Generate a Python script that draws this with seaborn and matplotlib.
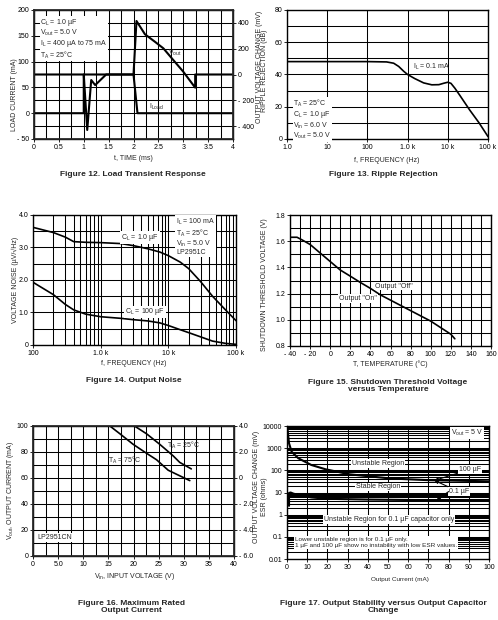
import matplotlib
matplotlib.use('Agg')
import matplotlib.pyplot as plt
import seaborn as sns
from matplotlib.ticker import MultipleLocator, LogLocator, NullLocator, NullFormatter

# ---- Figure 12: load transient response
t_load = [0, 1.0, 1.0, 2.0, 2.08, 4.0]
i_load = [0, 0, 75, 75, 0, 0]
t_vout = [0, 1.0, 1.07, 1.15, 1.23, 1.45, 2.0, 2.06, 2.23, 2.43, 2.6, 2.8, 3.0, 3.24, 3.24, 4.0]
v_out = [0, 0, -430, -43, -82, 0, 0, 415, 312, 254, 203, 112, 22, -102, 0, 0]

# ---- Figure 13: ripple rejection
f_rr = [1, 100, 300, 450, 600, 800, 1000, 1500, 2500, 4000, 6000, 8000, 10000, 12000,
        15000, 20000, 35000, 60000, 100000]
rr = [48, 48, 47.8, 47, 45, 42, 40, 37.5, 34.8, 33.6, 33.7, 34.6, 35.2, 34.5,
      31.5, 27, 18, 10, 1.5]

# ---- Figure 14: output noise
f_noise = [100, 200, 300, 400, 600, 1000, 2000, 3000, 5000, 7500, 10000, 15000, 20000,
           30000, 45000, 70000, 100000]
noise_1uf = [3.62, 3.46, 3.32, 3.18, 3.16, 3.15, 3.12, 3.06, 2.96, 2.86, 2.75, 2.55, 2.35,
             1.95, 1.5, 1.08, 0.75]
noise_100uf = [1.93, 1.55, 1.25, 1.08, 0.95, 0.87, 0.82, 0.78, 0.74, 0.68, 0.6, 0.47, 0.38,
               0.25, 0.12, 0.05, 0.02]

# ---- Figure 15: shutdown threshold
temp = [-40, -33, -28, -20, -10, 0, 10, 20, 30, 40, 50, 60, 70, 80, 90, 100, 110, 120, 124]
v_sd = [1.63, 1.63, 1.61, 1.575, 1.51, 1.445, 1.38, 1.333, 1.285, 1.24, 1.19, 1.15, 1.11,
        1.07, 1.03, 0.99, 0.94, 0.89, 0.855]

# ---- Figure 16: max rated output current
vin_25 = [4.5, 20.2, 22.6, 25.2, 27.9, 29.2, 31.5]
iout_25 = [100, 100, 94, 86, 77, 72, 67]
vin_75 = [4.5, 15.3, 17.3, 19.9, 22.6, 24.6, 26.9, 28.5, 31.2]
iout_75 = [100, 100, 94, 86, 79, 74, 66, 63, 58]

# ---- Figure 17: output stability
iout_100uf = [0.3, 1, 2.3, 5.6, 12, 19, 31, 51, 70, 100]
esr_100uf = [6600, 1660, 690, 350, 175, 112, 66, 43, 36, 32]
iout_01uf = [1.0, 1.0, 1.8, 3, 6, 12, 20, 40, 70, 100]
esr_01uf = [2.5, 9.5, 10, 9, 7.5, 6, 5.2, 4.8, 4.5, 4.3]

# condition notes
cond12 = ['C$_\\mathrm{L}$ = 1.0 µF', 'V$_\\mathrm{out}$ = 5.0 V',
          'I$_\\mathrm{L}$ = 400 µA to 75 mA', 'T$_\\mathrm{A}$ = 25°C']
cond13 = ['T$_\\mathrm{A}$ = 25°C', 'C$_\\mathrm{L}$ = 1.0 µF', 'V$_\\mathrm{in}$ = 6.0 V',
          'V$_\\mathrm{out}$ = 5.0 V']
cond14 = ['I$_\\mathrm{L}$ = 100 mA', 'T$_\\mathrm{A}$ = 25°C', 'V$_\\mathrm{in}$ = 5.0 V',
          'LP2951C']
note17 = ['Lower unstable region is for 0.1 µF only.',
          '1 µF and 100 µF show no instability with low ESR values.']

# tick positions / labels
x12 = [0, 0.5, 1, 1.5, 2, 2.5, 3, 3.5, 4]
x12_lab = ['0', '0.5', '1', '1.5', '2', '2.5', '3', '3.5', '4']
y12 = [-50, 0, 50, 100, 150, 200]
y12_lab = ['- 50', '0', '50', '100', '150', '200']
y12r = [-400, -200, 0, 200, 400]
y12r_lab = ['- 400', '- 200', '0', '200', '400']
x13 = [1, 10, 100, 1e3, 1e4, 1e5]
x13_lab = ['1.0', '10', '100', '1.0 k', '10 k', '100 k']
y13 = [0, 20, 40, 60, 80]
x14 = [100, 1e3, 1e4, 1e5]
x14_lab = ['100', '1.0 k', '10 k', '100 k']
y14 = [0, 1, 2, 3, 4]
y14_lab = ['0', '1.0', '2.0', '3.0', '4.0']
x15 = [-40, -20, 0, 20, 40, 60, 80, 100, 120, 140, 160]
x15_lab = ['- 40', '- 20', '0', '20', '40', '60', '80', '100', '120', '140', '160']
y15 = [0.8, 1.0, 1.2, 1.4, 1.6, 1.8]
y15_lab = ['0.8', '1.0', '1.2', '1.4', '1.6', '1.8']
x16 = [0, 5, 10, 15, 20, 25, 30, 35, 40]
x16_lab = ['0', '5.0', '10', '15', '20', '25', '30', '35', '40']
y16 = [0, 20, 40, 60, 80, 100]
y16r = [-6, -4, -2, 0, 2, 4]
y16r_lab = ['- 6.0', '- 4.0', '- 2.0', '0', '2.0', '4.0']
x17 = [0, 10, 20, 30, 40, 50, 60, 70, 80, 90, 100]
y17 = [0.01, 0.1, 1, 10, 100, 1000, 10000]
y17_lab = ['0.01', '0.1', '1', '10', '100', '1000', '10000']

sns.set_theme(style='white')
plt.rcParams['font.family'] = ['Liberation Sans', 'DejaVu Sans']
plt.rcParams['mathtext.fontset'] = 'custom'
plt.rcParams['mathtext.rm'] = 'Liberation Sans'
plt.rcParams['mathtext.it'] = 'Liberation Sans:italic'
plt.rcParams['mathtext.bf'] = 'Liberation Sans:bold'

W, H = 498, 620
fig = plt.figure(figsize=(W / 100, H / 100), dpi=100)

TS = 5      # tick size
LS = 5      # label size
TT = 6      # title size
BOX = dict(facecolor='white', edgecolor='none', pad=0.6)


def add_ax(left, top, right, bottom):
    return fig.add_axes([left / W, 1 - bottom / H, (right - left) / W, (bottom - top) / H])


def style(ax, xt, xl, yt, yl):
    for s in ax.spines.values():
        s.set_linewidth(1.0)
        s.set_color('black')
    ax.set_xticks(xt)
    ax.set_xticklabels(xl)
    ax.set_yticks(yt)
    ax.set_yticklabels(yl)
    ax.tick_params(which='major', labelsize=TS, length=2, width=0.6, pad=1.5,
                   colors='black', direction='out', bottom=True, left=True)
    ax.tick_params(which='minor', length=0)
    ax.grid(True, which='both', color='black', lw=0.75)
    ax.set_axisbelow(True)
    ax.set_xlabel('')
    ax.set_ylabel('')


def right_axis(ax, lim, ticks, labels):
    r = ax.twinx()
    r.set_ylim(*lim)
    r.set_yticks(ticks)
    r.set_yticklabels(labels)
    r.tick_params(labelsize=TS, length=2, width=0.6, pad=1.5, colors='black', right=True)
    r.grid(False)
    r.set_ylabel('')
    return r


def ftext(x, y, s, **kw):
    kw.setdefault('fontsize', LS)
    kw.setdefault('ha', 'center')
    kw.setdefault('va', 'center')
    fig.text(x / W, 1 - y / H, s, **kw)


def notes(ax, x, ytop, lines, fs=LS, sp=1.0):
    ax.text(x, ytop, '\n'.join(lines), fontsize=fs, ha='left', va='top', bbox=BOX,
            linespacing=sp)


def line(ax, x, y, lw=1.2):
    sns.lineplot(x=x, y=y, ax=ax, color='black', lw=lw, sort=False, estimator=None)


# ================= Figure 12
ax1 = add_ax(34, 10, 233, 139)
line(ax1, t_load, i_load, lw=1.5)
ax1.set_xlim(0, 4)
ax1.set_ylim(-50, 200)
ax1.xaxis.set_minor_locator(MultipleLocator(0.25))
ax1.yaxis.set_minor_locator(MultipleLocator(25))
style(ax1, x12, x12_lab, y12, y12_lab)
ax1r = right_axis(ax1, (-500, 500), y12r, y12r_lab)
line(ax1r, t_vout, v_out, lw=1.5)
ax1r.set_ylim(-500, 500)
ax1r.set_ylabel('')
notes(ax1, 0.13, 186, cond12)
ax1.text(2.7, 117, 'V$_\\mathrm{out}$', fontsize=LS, ha='left', va='center')
ax1.text(2.32, 12, 'I$_\\mathrm{Load}$', fontsize=LS, ha='left', va='center')
ftext(133, 159, 't, TIME (ms)')
ftext(14, 95, 'LOAD CURRENT (mA)', rotation=90)
ftext(259, 67, 'OUTPUT VOLTAGE CHANGE (mV)', rotation=90)
ftext(133, 175, 'Figure 12. Load Transient Response', fontsize=TT, weight='bold')

# ================= Figure 13
ax2 = add_ax(287, 10, 488, 139)
line(ax2, f_rr, rr, lw=1.2)
ax2.set_xscale('log')
ax2.set_xlim(1, 1e5)
ax2.set_ylim(0, 80)
ax2.yaxis.set_minor_locator(MultipleLocator(10))
style(ax2, x13, x13_lab, y13, [str(v) for v in y13])
ax2.xaxis.set_minor_locator(NullLocator())
ax2.text(1350, 45, 'I$_\\mathrm{L}$ = 0.1 mA', fontsize=LS, ha='left', va='center')
notes(ax2, 1.45, 25.3, cond13)
ftext(387, 160, 'f, FREQUENCY (Hz)')
ftext(265, 71, 'RIPPLE REJECTION (dB)', rotation=90)
ftext(383, 175, 'Figure 13. Ripple Rejection', fontsize=TT, weight='bold')

# ================= Figure 14
ax3 = add_ax(33, 215, 236, 345)
line(ax3, f_noise, noise_1uf, lw=1.2)
line(ax3, f_noise, noise_100uf, lw=1.2)
ax3.set_xscale('log')
ax3.set_xlim(100, 1e5)
ax3.set_ylim(0, 4)
ax3.yaxis.set_minor_locator(MultipleLocator(0.5))
style(ax3, x14, x14_lab, y14, y14_lab)
ax3.xaxis.set_minor_locator(LogLocator(base=10, subs=range(2, 10), numticks=20))
ax3.xaxis.set_minor_formatter(NullFormatter())
ax3.text(2000, 3.3, 'C$_\\mathrm{L}$ = 1.0 µF', fontsize=LS, ha='left', va='center', bbox=BOX)
ax3.text(2300, 1.02, 'C$_\\mathrm{L}$ = 100 µF', fontsize=LS, ha='left', va='center', bbox=BOX)
notes(ax3, 13000, 3.93, cond14)
ftext(134, 364, 'f, FREQUENCY (Hz)')
ftext(15, 280, 'VOLTAGE NOISE (µV/√Hz)', rotation=90)
ftext(134, 380, 'Figure 14. Output Noise', fontsize=TT, weight='bold')

# ================= Figure 15
ax4 = add_ax(290, 215, 491, 346)
line(ax4, temp, v_sd, lw=1.2)
ax4.xaxis.set_minor_locator(MultipleLocator(10))
ax4.yaxis.set_minor_locator(MultipleLocator(0.1))
style(ax4, x15, x15_lab, y15, y15_lab)
ax4.set_xlim(-40, 160)
ax4.set_ylim(0.8, 1.8)
ax4.text(44.6, 1.258, 'Output "Off"', fontsize=LS, ha='left', va='center', bbox=BOX)
ax4.text(9, 1.161, 'Output "On"', fontsize=LS, ha='left', va='center', bbox=BOX)
ftext(390, 364, 'T, TEMPERATURE (°C)')
ftext(265, 285, 'SHUTDOWN THRESHOLD VOLTAGE (V)', rotation=90)
ftext(388, 386, 'Figure 15. Shutdown Threshold Voltage\nversus Temperature',
      fontsize=TT, weight='bold', linespacing=1.1)

# ================= Figure 16
ax5 = add_ax(33, 426, 234, 556)
line(ax5, vin_25, iout_25, lw=1.2)
line(ax5, vin_75, iout_75, lw=1.2)
ax5.xaxis.set_minor_locator(MultipleLocator(2.5))
ax5.yaxis.set_minor_locator(MultipleLocator(10))
style(ax5, x16, x16_lab, y16, [str(v) for v in y16])
ax5.set_xlim(0, 40)
ax5.set_ylim(0, 100)
right_axis(ax5, (-6, 4), y16r, y16r_lab)
ax5.text(26.6, 85.4, 'T$_\\mathrm{A}$ = 25°C', fontsize=LS, ha='left', va='center')
ax5.text(15, 73.8, 'T$_\\mathrm{A}$ = 75°C', fontsize=LS, ha='left', va='center')
ax5.text(0.9, 14, 'LP2951CN', fontsize=LS, ha='left', va='center', bbox=BOX)
ftext(135, 576, 'V$_\\mathrm{in}$, INPUT VOLTAGE (V)')
ftext(11, 490, 'V$_\\mathrm{out}$, OUTPUT CURRENT (mA)', rotation=90)
ftext(257, 487, 'OUTPUT VOLTAGE CHANGE (mV)', rotation=90)
ftext(131, 607, 'Figure 16. Maximum Rated\nOutput Current', fontsize=TT, weight='bold',
      linespacing=1.1)

# ================= Figure 17
ax6 = add_ax(287, 426, 489, 559)
line(ax6, iout_100uf, esr_100uf, lw=1.5)
line(ax6, iout_01uf, esr_01uf, lw=1.5)
ax6.set_yscale('log')
style(ax6, x17, [str(v) for v in x17], y17, y17_lab)
ax6.yaxis.set_minor_locator(LogLocator(base=10, subs=range(2, 10), numticks=30))
ax6.yaxis.set_minor_formatter(NullFormatter())
ax6.set_xlim(0, 100)
ax6.set_ylim(0.01, 10000)
ax6.text(97, 4800, 'V$_\\mathrm{out}$ = 5 V', fontsize=LS, ha='right', va='center', bbox=BOX)
ax6.text(45, 200, 'Unstable Region', fontsize=LS, ha='center', va='center', bbox=BOX)
ax6.text(45, 18, 'Stable Region', fontsize=LS, ha='center', va='center', bbox=BOX)
ax6.text(50.5, 0.6, 'Unstable Region for 0.1 µF capacitor only', fontsize=LS,
         ha='center', va='center', bbox=BOX)
notes(ax6, 4, 0.1, note17, fs=4.6, sp=1.3)
arrow = dict(arrowstyle='-|>', color='black', lw=0.8, mutation_scale=5, shrinkA=0, shrinkB=0)
ax6.annotate('100 µF', xy=(73, 35), xytext=(85, 110), fontsize=LS, ha='left', va='center',
             bbox=BOX, arrowprops=arrow)
ax6.annotate('0.1 µF', xy=(73, 35), xytext=(80, 11), fontsize=LS, ha='left', va='center',
             bbox=BOX, arrowprops=arrow)
ax6.annotate('', xy=(74, 4.5), xytext=(80, 11), arrowprops=arrow)
ftext(400, 579, 'Output Current (mA)', fontsize=4.6)
ftext(265, 497, 'ESR (ohms)', rotation=90)
ftext(383, 607, 'Figure 17. Output Stability versus Output Capacitor\nChange',
      fontsize=TT, weight='bold', linespacing=1.1)

fig.savefig('out.png', dpi=100)
